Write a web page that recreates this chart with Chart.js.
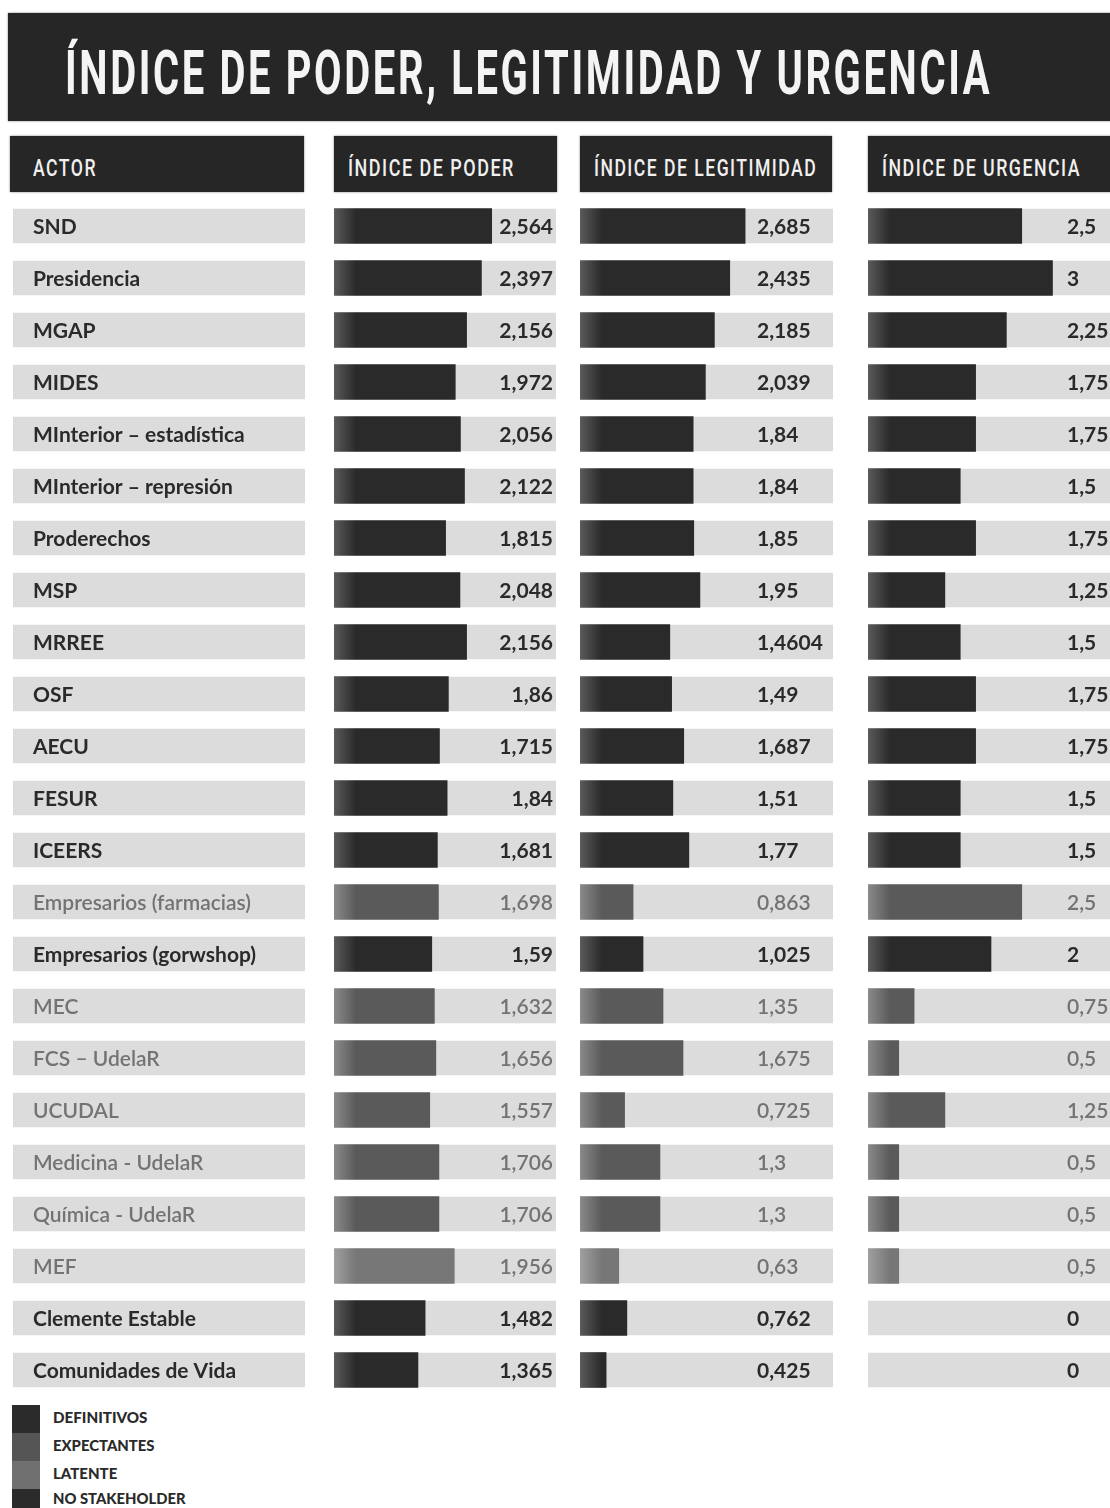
<!DOCTYPE html>
<html>
<head>
<meta charset="utf-8">
<script src="https://cdn.jsdelivr.net/npm/chart.js@4/dist/chart.umd.min.js"></script>
<style>
  html, body { margin: 0; padding: 0; background: #fff; }
  body { width: 1110px; height: 1508px; position: relative; overflow: hidden; }
  .box { position: absolute; background: #262626; box-shadow: 0 0 2px rgba(0,0,0,.5); }
  .fit { position: absolute; white-space: nowrap; font-family: Roboto, "DejaVu Sans", sans-serif; line-height: 1; transform-origin: 0 0; }
  canvas { position: absolute; }
  .leg { position: absolute; left: 12px; width: 28px; }
</style>
</head>
<body>

<div class="box" style="left:8px;top:13px;width:1110px;height:108px"></div>
<span class="fit" data-w="927" style="left:65px;top:43px;font-size:61px;font-weight:700;letter-spacing:4px;color:#f4f4f4">ÍNDICE DE PODER, LEGITIMIDAD Y URGENCIA</span>

<div class="box" style="left:10px;top:136px;width:294px;height:56px"></div>
<div class="box" style="left:334px;top:136px;width:223px;height:56px"></div>
<div class="box" style="left:580px;top:136px;width:252px;height:56px"></div>
<div class="box" style="left:868px;top:136px;width:260px;height:56px"></div>
<span class="fit" data-w="64" style="left:33px;top:156px;font-size:24px;font-weight:500;letter-spacing:2px;color:#f0f0f0">ACTOR</span>
<span class="fit" data-w="167" style="left:348px;top:156px;font-size:24px;font-weight:500;letter-spacing:2px;color:#f0f0f0">ÍNDICE DE PODER</span>
<span class="fit" data-w="223" style="left:594px;top:156px;font-size:24px;font-weight:500;letter-spacing:2px;color:#f0f0f0">ÍNDICE DE LEGITIMIDAD</span>
<span class="fit" data-w="199" style="left:882px;top:156px;font-size:24px;font-weight:500;letter-spacing:2px;color:#f0f0f0">ÍNDICE DE URGENCIA</span>

<canvas id="actor" width="292" height="1196" style="left:13px;top:200px"></canvas>
<canvas id="poder" width="222" height="1196" style="left:334px;top:200px"></canvas>
<canvas id="legit" width="253" height="1196" style="left:580px;top:200px"></canvas>
<canvas id="urg" width="250" height="1196" style="left:868px;top:200px"></canvas>

<div class="leg" style="top:1405px;height:28px;background:#2b2b2b"></div>
<div class="leg" style="top:1433px;height:28px;background:#555"></div>
<div class="leg" style="top:1461px;height:28px;background:#707070"></div>
<div class="leg" style="top:1489px;height:28px;background:#2b2b2b"></div>
<span class="fit" data-w="94" style="left:53px;top:1410px;font-family:Lato;font-size:15px;font-weight:900;color:#2a2a2a">DEFINITIVOS</span>
<span class="fit" data-w="102" style="left:53px;top:1438px;font-family:Lato;font-size:15px;font-weight:900;color:#2a2a2a">EXPECTANTES</span>
<span class="fit" data-w="64" style="left:53px;top:1466px;font-family:Lato;font-size:15px;font-weight:900;color:#2a2a2a">LATENTE</span>
<span class="fit" data-w="133" style="left:53px;top:1491px;font-family:Lato;font-size:15px;font-weight:900;color:#2a2a2a">NO STAKEHOLDER</span>

<script>
var actors = ['SND', 'Presidencia', 'MGAP', 'MIDES', 'MInterior – estadística', 'MInterior – represión',
  'Proderechos', 'MSP', 'MRREE', 'OSF', 'AECU', 'FESUR', 'ICEERS', 'Empresarios (farmacias)',
  'Empresarios (gorwshop)', 'MEC', 'FCS – UdelaR', 'UCUDAL', 'Medicina - UdelaR', 'Química - UdelaR',
  'MEF', 'Clemente Estable', 'Comunidades de Vida'];
var poder = [2.564, 2.397, 2.156, 1.972, 2.056, 2.122, 1.815, 2.048, 2.156, 1.86, 1.715, 1.84, 1.681,
  1.698, 1.59, 1.632, 1.656, 1.557, 1.706, 1.706, 1.956, 1.482, 1.365];
var legitimidad = [2.685, 2.435, 2.185, 2.039, 1.84, 1.84, 1.85, 1.95, 1.4604, 1.49, 1.687, 1.51, 1.77,
  0.863, 1.025, 1.35, 1.675, 0.725, 1.3, 1.3, 0.63, 0.762, 0.425];
var urgencia = [2.5, 3, 2.25, 1.75, 1.75, 1.5, 1.75, 1.25, 1.5, 1.75, 1.75, 1.5, 1.5,
  2.5, 2, 0.75, 0.5, 1.25, 0.5, 0.5, 0.5, 0, 0];
// tipo de stakeholder por actor: def = definitivo, exp = expectante, lat = latente
var tipo = ['def', 'def', 'def', 'def', 'def', 'def', 'def', 'def', 'def', 'def', 'def', 'def', 'def',
  'exp', 'def', 'exp', 'exp', 'exp', 'exp', 'exp', 'lat', 'def', 'def'];

var barColor = { def: '#2a2a2a', exp: '#5a5a5a', lat: '#777777' };
var barLight = { def: '#5a5a5a', exp: '#8a8a8a', lat: '#a0a0a0' };
var textColor = { def: '#2a2a2a', exp: '#737373', lat: '#737373' };
var bandColor = '#dcdcdc';
var pxPerUnit = 61.5;

// fit the condensed header texts to their widths
document.querySelectorAll('.fit').forEach(function(el) {
  var w = el.offsetWidth;
  el.style.transform = 'scaleX(' + (el.dataset.w / w) + ')';
});

function fmt(v) {
  return String(v).replace('.', ',');
}

function barFill(context) {
  var chart = context.chart;
  var t = tipo[context.dataIndex];
  if (!context.raw) return 'rgba(0,0,0,0)';
  if (!chart.chartArea) return barColor[t];
  var left = chart.chartArea.left;
  var g = chart.ctx.createLinearGradient(left, 0, left + 22, 0);
  g.addColorStop(0, barLight[t]);
  g.addColorStop(1, barColor[t]);
  return g;
}

var labelPlugin = {
  id: 'rowLabels',
  afterDatasetsDraw: function(chart, args, opts) {
    var ctx = chart.ctx;
    var meta = chart.getDatasetMeta(0);
    ctx.save();
    ctx.textBaseline = 'middle';
    ctx.textAlign = opts.align;
    meta.data.forEach(function(bar, i) {
      var t = tipo[i];
      ctx.fillStyle = textColor[t];
      ctx.font = (t == 'def' ? '700' : '600') + ' 21px Lato, sans-serif';
      ctx.fillText(opts.text[i], chart.chartArea.left + opts.x, bar.y + 1);
    });
    ctx.restore();
  }
};

function makeChart(id, values, texts, align, x, showBars) {
  var canvas = document.getElementById(id);
  var max = canvas.width / pxPerUnit;
  var datasets = [];
  if (showBars) {
    datasets.push({ data: values, backgroundColor: barFill, barThickness: 35 });
  } else {
    datasets.push({ data: values.map(function() { return 0; }), backgroundColor: 'rgba(0,0,0,0)', barThickness: 35 });
  }
  datasets.push({ data: values.map(function() { return max; }), backgroundColor: bandColor, barThickness: 34 });
  return new Chart(canvas.getContext('2d'), {
    type: 'bar',
    data: { labels: actors, datasets: datasets },
    options: {
      indexAxis: 'y',
      responsive: false,
      animation: false,
      devicePixelRatio: 1,
      layout: { padding: 0 },
      datasets: { bar: { grouped: false } },
      scales: {
        x: { display: false, min: 0, max: max },
        y: { display: false }
      },
      plugins: {
        legend: { display: false },
        tooltip: { enabled: false },
        rowLabels: { text: texts, align: align, x: x }
      }
    },
    plugins: [labelPlugin]
  });
}

makeChart('actor', poder, actors, 'left', 20, false);
makeChart('poder', poder, poder.map(fmt), 'right', 219, true);
makeChart('legit', legitimidad, legitimidad.map(fmt), 'left', 177, true);
makeChart('urg', urgencia, urgencia.map(fmt), 'left', 199, true);
</script>
</body>
</html>
